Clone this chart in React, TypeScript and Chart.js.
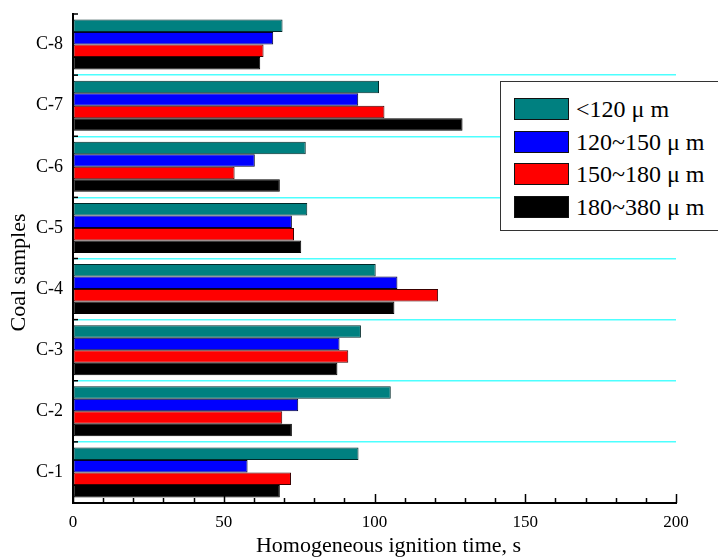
import React, { useEffect, useRef } from 'react';
import { Chart, registerables } from 'chart.js';

Chart.register(...registerables);

const categories = ['C-1', 'C-2', 'C-3', 'C-4', 'C-5', 'C-6', 'C-7', 'C-8'];
const seriesLabels = ['<120 μ m', '120~150 μ m', '150~180 μ m', '180~380 μ m'];
const lt120 = [94.7, 105.4, 95.5, 100.4, 77.7, 77.2, 101.5, 69.5];
const s120to150 = [57.9, 74.7, 88.4, 107.6, 72.6, 60.3, 94.6, 66.4];
const s150to180 = [72.3, 69.4, 91.3, 121.1, 73.3, 53.6, 103.3, 63.2];
const s180to380 = [68.6, 72.6, 87.7, 106.6, 75.7, 68.6, 129.2, 62.1];
const seriesColors = ['#008080', '#0000ff', '#ff0000', '#000000'];
const seriesBorders = ['#002828', '#00002a', '#3a0000', '#000000'];
const xMin = 0;
const xMax = 200;
const xStep = 50;
const xMinorStep = 10;
const xTitle = 'Homogeneous ignition time, s';
const yTitle = 'Coal samples';

const FONT = '"Liberation Serif", "Times New Roman", serif';

const insideTicks = {
  id: 'insideTicks',
  afterDraw(chart: any) {
    const { ctx, chartArea, scales } = chart;
    const x = scales.x;
    ctx.save();
    ctx.strokeStyle = '#000';
    ctx.lineWidth = 1.5;
    for (let v = xMin; v <= xMax; v += xMinorStep) {
      const px = Math.round(x.getPixelForValue(v)) + 0.5;
      const len = v % xStep === 0 ? 9 : 5;
      ctx.beginPath();
      ctx.moveTo(px, chartArea.bottom);
      ctx.lineTo(px, chartArea.bottom - len);
      ctx.stroke();
    }
    const n = categories.length;
    for (let i = 0; i <= n; i++) {
      const py = chartArea.top + (i * (chartArea.bottom - chartArea.top)) / n;
      ctx.beginPath();
      ctx.moveTo(chartArea.left, py);
      ctx.lineTo(chartArea.left + 5, py);
      ctx.stroke();
    }
    ctx.restore();
  },
};

const axisTitles = {
  id: 'axisTitles',
  afterDraw(chart: any) {
    const { ctx, chartArea } = chart;
    ctx.save();
    ctx.fillStyle = '#000';
    ctx.font = `22px ${FONT}`;
    ctx.textAlign = 'center';
    ctx.textBaseline = 'alphabetic';
    const cx = (chartArea.left + chartArea.right) / 2 + 14;
    ctx.fillText(xTitle, cx, 552);
    const cy = (chartArea.top + chartArea.bottom) / 2 + 14;
    ctx.translate(25, cy);
    ctx.rotate(-Math.PI / 2);
    ctx.fillText(yTitle, 0, 0);
    ctx.restore();
  },
};

export default function App() {
  const ref = useRef<HTMLCanvasElement>(null);

  useEffect(() => {
    if (!ref.current) return;
    const series = [lt120, s120to150, s150to180, s180to380];
    const chart = new Chart(ref.current, {
      type: 'bar',
      data: {
        labels: categories,
        datasets: series.map((d, i) => ({
          label: seriesLabels[i],
          data: d,
          backgroundColor: seriesColors[i],
          borderColor: seriesBorders[i],
          borderWidth: 1,
          borderSkipped: false,
          barPercentage: 1,
          categoryPercentage: 0.82,
        })),
      },
      options: {
        indexAxis: 'y',
        responsive: false,
        animation: false,
        layout: { padding: { top: 14, right: 42, left: 0, bottom: 0 } },
        plugins: {
          legend: { display: false },
          tooltip: { enabled: false },
        },
        scales: {
          x: {
            type: 'linear',
            min: xMin,
            max: xMax,
            ticks: {
              stepSize: xStep,
              color: '#000',
              font: { family: FONT, size: 17 },
              padding: 9,
            },
            grid: { drawOnChartArea: false, drawTicks: false },
            border: { color: '#000', width: 2 },
            title: { display: false },
            afterFit: (scale: any) => {
              scale.height = 54;
              scale.paddingLeft = 0;
              scale.paddingRight = 0;
            },
          },
          y: {
            type: 'category',
            reverse: true,
            offset: true,
            ticks: {
              color: '#000',
              font: { family: FONT, size: 18 },
              padding: 10,
            },
            grid: {
              offset: true,
              drawTicks: false,
              lineWidth: 1.5,
              color: (ctx: any) =>
                ctx.type !== 'tick' || ctx.index === 0 || ctx.index >= categories.length
                  ? 'rgba(0,0,0,0)'
                  : '#4dffff',
            },
            border: { color: '#000', width: 2 },
            title: { display: false },
            afterFit: (scale: any) => {
              scale.width = 73;
              scale.paddingTop = 0;
              scale.paddingBottom = 0;
            },
          },
        },
      },
      plugins: [insideTicks, axisTitles],
    } as any);
    return () => chart.destroy();
  }, []);

  const rowTops = [16, 49, 81, 114];

  return (
    <div
      style={{
        position: 'absolute',
        left: 0,
        top: 0,
        width: 718,
        height: 557,
        overflow: 'hidden',
        background: '#fff',
      }}
    >
      <canvas ref={ref} width={718} height={557} style={{ width: 718, height: 557, display: 'block' }} />
      <div
        style={{
          position: 'absolute',
          left: 500,
          top: 81,
          width: 240,
          height: 148,
          border: '1.5px solid #333',
          background: '#fff',
          fontFamily: FONT,
          fontSize: 24,
          color: '#000',
        }}
      >
        {seriesLabels.map((lab, i) => (
          <div key={lab} style={{ position: 'absolute', left: 0, top: rowTops[i], height: 22, width: 240 }}>
            <div
              style={{
                position: 'absolute',
                left: 13,
                top: 0,
                width: 53,
                height: 20,
                background: seriesColors[i],
                border: '1px solid #111',
              }}
            />
            <div
              style={{
                position: 'absolute',
                left: 75,
                top: -4,
                lineHeight: '30px',
                whiteSpace: 'pre',
              }}
            >
              {lab}
            </div>
          </div>
        ))}
      </div>
    </div>
  );
}
